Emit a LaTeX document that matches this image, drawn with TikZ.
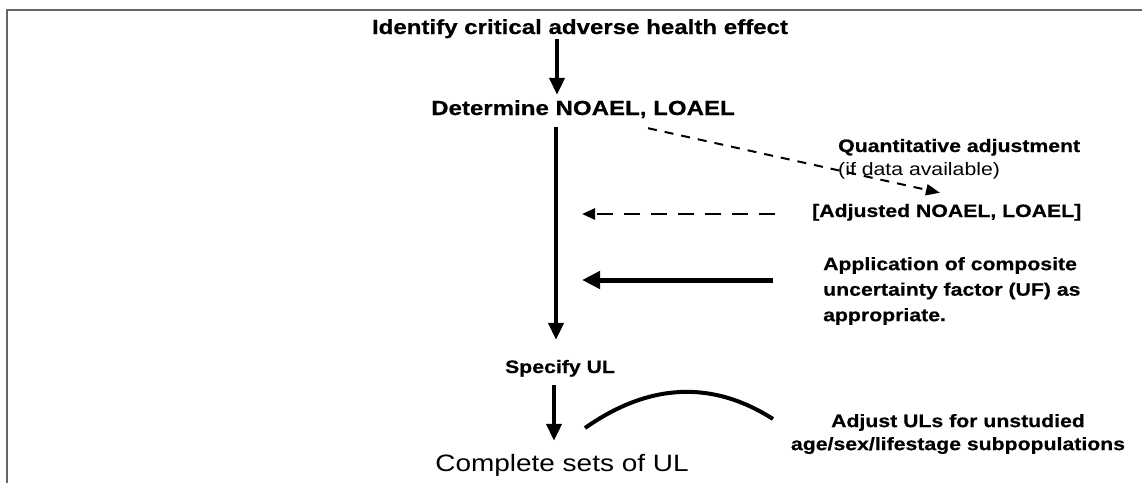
\documentclass[tikz,border=0pt]{standalone}
\usepackage{fontspec}
\setmainfont{Liberation Sans}[FakeStretch=1.18, BoldFeatures={FakeBold=0.5}]
\usetikzlibrary{arrows.meta}
\begin{document}
\begin{tikzpicture}[x=1pt,y=-1pt,
  bigtxt/.style={font=\bfseries\fontsize{20.4}{24}\selectfont, inner sep=0pt, text height=15pt, text depth=4.3pt},
  smalltxt/.style={font=\bfseries\fontsize{18}{22}\selectfont, inner sep=0pt, text height=13.2pt, text depth=3.8pt},
  regtxt/.style={font=\fontsize{18}{22}\selectfont, inner sep=0pt, text height=13.2pt, text depth=3.8pt},
  multitxt/.style={font=\bfseries\fontsize{18}{25.5}\selectfont, inner sep=0pt},
  endtxt/.style={font=\fontsize{23.7}{28}\selectfont, inner sep=0pt, text height=17.3pt, text depth=5pt},
  mainarrow/.style={line width=4.5pt, -{Triangle[length=17pt,width=15pt]}},
  sidearrow/.style={line width=5pt, -{Triangle[length=18pt,width=17pt]}},
  dasharrow/.style={line width=2.5pt, dash pattern=on 16pt off 11pt, -{Triangle[length=13pt,width=11pt]}},
  diagarrow/.style={line width=2pt, dash pattern=on 9pt off 8pt, -{Triangle[length=14pt,width=11pt]}},
  framecol/.style={draw=black!60, line width=1.5pt}
]
\useasboundingbox (0,0) rectangle (1142,483);
\draw[framecol] (7,483) -- (7,10) -- (1142,10);

\node[bigtxt, anchor=base] (ident) at (580,34) {Identify critical adverse health effect};
\node[bigtxt, anchor=base] (det) at (583,115) {Determine NOAEL, LOAEL};
\node[smalltxt, anchor=base] (spec) at (560,373) {Specify UL};
\node[endtxt, anchor=base] (compl) at (562,471) {Complete sets of UL};
\node[smalltxt, anchor=base west] (quant) at (838,152) {Quantitative adjustment};
\node[regtxt, anchor=base west] (ifdata) at (838,175) {(if data available)};
\node[smalltxt, anchor=base west] (adj) at (812,217) {[Adjusted NOAEL, LOAEL]};
\node[multitxt, align=left, anchor=west] (app) at (823,291) {Application of composite\\uncertainty factor (UF) as\\appropriate.};
\node[multitxt, align=center, font=\bfseries\fontsize{18}{23}\selectfont] (adjul) at (958,434) {Adjust ULs for unstudied\\age/sex/lifestage subpopulations};

\coordinate (v2) at ([xshift=-27pt,yshift=-7.7pt]det.south);

\draw[mainarrow] ([xshift=-23pt,yshift=0pt]ident.south) -- ([xshift=-26pt,yshift=5pt]det.north);
\draw[mainarrow] (v2) -- ([xshift=-4pt,yshift=19.8pt]spec.north);
\draw[mainarrow] ([xshift=-6pt,yshift=-8.2pt]spec.south) -- ([xshift=-8pt,yshift=12.7pt]compl.north);

\draw[diagarrow] ([xshift=65pt,yshift=-8.7pt]det.south) -- ([xshift=128pt,yshift=10.8pt]adj.north west);
\draw[dasharrow] ([xshift=-37pt,yshift=-1.7pt]adj.west) -- ([xshift=26pt,yshift=-1.7pt]adj.west -| v2);
\draw[sidearrow] ([xshift=-50pt,yshift=11pt]app.west) -- ([xshift=26pt,yshift=11pt]app.west -| v2);

\coordinate (arcL) at (585,428);
\coordinate (arcR) at (773,419);
\draw[line width=4pt] (arcL) .. controls (649,383) and (712,380) .. (arcR);
\end{tikzpicture}
\end{document}
